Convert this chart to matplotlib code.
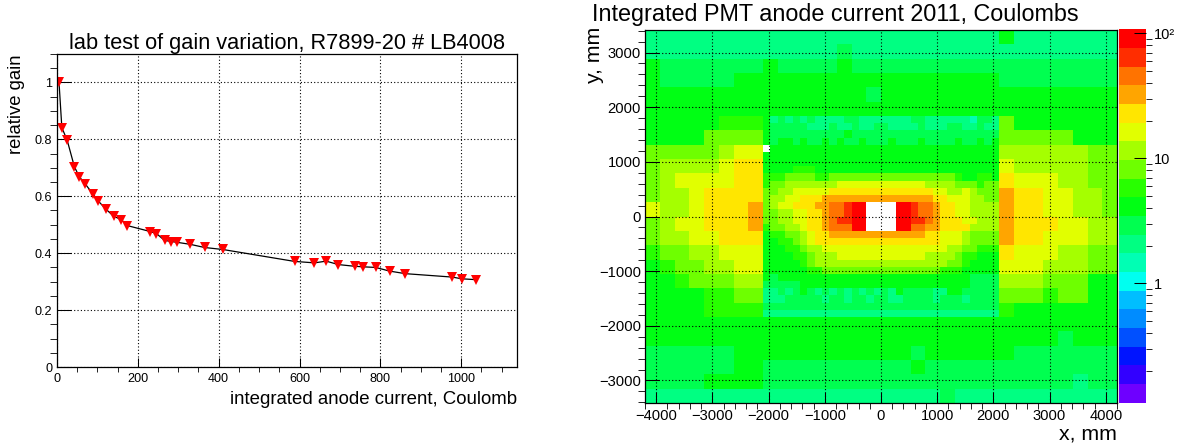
import numpy as np
import matplotlib.pyplot as plt
from matplotlib.colors import ListedColormap, LogNorm
from matplotlib.ticker import MultipleLocator, FuncFormatter, LogLocator, NullFormatter

plt.rcParams['font.family'] = ['Liberation Sans', 'DejaVu Sans']

# ---- gain vs integrated charge (lab test) ----
charge = [5, 12, 25, 43, 55, 70, 89, 101, 120, 140, 159, 174, 231, 246, 266,
          283, 298, 330, 365, 410, 588, 637, 666, 696, 736, 758, 788, 823,
          862, 978, 1001, 1036]
gain = [1.0, 0.841, 0.798, 0.704, 0.669, 0.643, 0.608, 0.585, 0.556, 0.530,
        0.518, 0.497, 0.476, 0.469, 0.445, 0.441, 0.438, 0.431, 0.420, 0.413,
        0.371, 0.366, 0.372, 0.360, 0.354, 0.352, 0.350, 0.337, 0.328, 0.316,
        0.310, 0.307]

# ---- anode current map, coded by palette level ----
palette = ['#6e00ff', '#3200ff', '#0014ff', '#0050ff', '#008cff', '#00beff',
           '#00fff0', '#00ffb4', '#00ff82', '#00ff50', '#00ff14', '#28ff00',
           '#6eff00', '#a5ff00', '#e1ff00', '#ffe600', '#ffa500', '#ff7300',
           '#ff2d00', '#ff0000']
level_codes = "0123456789ABCDEFGHIJ"
level_values = [0.132, 0.186, 0.262, 0.368, 0.519, 0.732, 1.03, 1.45, 2.05,
                2.89, 4.07, 5.73, 8.08, 11.4, 16.1, 22.6, 31.9, 44.9, 63.3, 89.2]
z_min, z_max = 0.111, 107.6

# outer cells (262.5 mm), top row first; '.' = not filled
outer_rows = [
    "88888888" "88888888" "88888888" "A8888888",
    "88888888" "88888988" "88888888" "88888888",
    "A9999999" "A9999A99" "99999999" "99999999",
    "A99999AA" "AAAAAAAA" "AAAAAAAA" "99999999",
    "AAAAAAAA" "AAAAAAA9" "AAAAAAAA" "AAAAAAAA",
    "AAAAAAAA" "AAAAAAAA" "AAAAAAAA" "AAAAAAAA",
    "AAAAABBB" "........" "........" "CAAAAAAA",
    "AAAACCCC" "........" "........" "CCCCCAAA",
    "CCCCCDEE" "........" "........" "DDDDDDCC",
    "CDDDDEFF" "........" "........" "EDDDDDCC",
    "CDEEEEFF" "........" "........" "FEEEDDCC",
    "CDDEFFFF" "........" "........" "GFFEEDDC",
    "EDDEFFFG" "........" "........" "GFFEEDDC",
    "CDEEFFFG" "........" "........" "GFFFEEDD",
    "CDDEEFFF" "........" "........" "GFFEEEDD",
    "BCCDDEEE" "........" "........" "FEEEDDCC",
    "ABCCDDEE" "........" "........" "EEEDDDCC",
    "AABCCCDD" "........" "........" "DDDCCCAA",
    "AAAABBCC" "........" "........" "CCCBCCAA",
    "AAAABBBB" "........" "........" "BAAAAAAA",
    "AAAAAAAA" "AAAAAAAA" "AAAAAAAA" "AAAAAAAA",
    "AAAAAAAA" "AAAAAAAA" "AAAAAAAA" "AAAA9AAA",
    "999999AA" "AAAAAAAA" "AA9AAAAA" "A9999999",
    "999999AA" "99999999" "99A99999" "99999999",
    "9999AAAA" "99999999" "99999999" "99999899",
    "88888888" "88888888" "88889888" "88888888",
]

# inner cells (131.25 mm), |x| < 2100, |y| < 1837.5, top row first
inner_rows = [
    "A8989898" "88899888" "88889988" "88887998",
    "A9999988" "89889889" "98888988" "89988988",
    "A9999999" "999A9999" "99999999" "99999999",
    "A9AA9A99" "A9A99A99" "9A999A99" "99A99A9A",
    ".AAAAAAA" "AAAAAAAA" "AAAAAAAA" "AAAAAAAA",
    "AAAAAAAA" "AAAAAAAA" "AAAAAAAA" "AAAAAAAA",
    "AAAAAAAA" "AAAAAAAA" "AAAAAAAA" "AAAAAAAA",
    "AAAABBBA" "AAAAAAAA" "AAAAAAAA" "AAAAAAAA",
    "BBBCCCCB" "BCCCCCCC" "CCCCCCCC" "CCBAABBA",
    "BCCDDDDD" "DDEEEEEE" "EEEEEEDD" "DDCCCBCC",
    "CCDDEEEE" "EFFFFFFF" "FFFFFFFE" "EDDEDCCC",
    "CDDEEFFF" "GGGGGGGG" "GGGGGGGF" "FEEEDDCC",
    "CDEEFFFG" "GHHIJJ.." "..JJIHHG" "FFEEDDDD",
    "CCDDEEFF" "GHHIJJ.." "..JJIHHG" "FFEEDDDD",
    "CCDDEEFF" "GHIIJJ.." "..JJIIHG" "FFFEEDDD",
    "BCCDDEFF" "GHHHJJ.." "..JJHHGG" "FFFFDDDD",
    "ABBCCDEF" "FGGGGGGG" "GGGGGGFF" "EEEDCCCC",
    "AABBCDEF" "FFFFFFFF" "FFFFFFFF" "EEEDCCCC",
    "AAABBCDD" "EEEEEEEE" "EEEEEEEE" "EDDCCBBB",
    "AAAABBCD" "DDEEEEEE" "EEEEEEDD" "DDCBBAAA",
    "AAAAABCD" "DDDDDDDD" "DDDDDDDD" "DCCBAAAA",
    "AAAAAABB" "CCCCCCCC" "CCCCCCCC" "BBBAAAAA",
    "A9AAAAAA" "AAAAAAAA" "AAAAAAAA" "AAAA9999",
    "99999AAA" "AAAAAAAA" "AAAAAAAA" "AAAA9999",
    "88989A98" "98989898" "98A99998" "8AA99999",
    "88899999" "89989989" "98899998" "99989999",
    "99999999" "99999999" "99999999" "99999999",
    "88888888" "88888888" "88888888" "88888888",
]


def decode(rows):
    grid = [[np.nan if c == '.' else level_values[level_codes.index(c)] for c in r]
            for r in rows]
    return np.array(grid)[::-1]


W, H = 1186, 445
fig = plt.figure(figsize=(W / 100, H / 100), dpi=100)


def px_axes(x0, y0, x1, y1):
    return fig.add_axes([x0 / W, 1 - y1 / H, (x1 - x0) / W, (y1 - y0) / H])


dotted = (0, (1, 2))

# ---------------- left pad ----------------
ax1 = px_axes(57, 54, 517, 367)
ax1.plot(charge, gain, color='black', lw=0.9, marker='v', ms=7,
         mfc='red', mec='red', mew=0)
ax1.set_xlim(0, 1138)
ax1.set_ylim(0, 1.1)
ax1.xaxis.set_major_locator(MultipleLocator(200))
ax1.xaxis.set_minor_locator(MultipleLocator(50))
ax1.yaxis.set_major_locator(MultipleLocator(0.2))
ax1.yaxis.set_minor_locator(MultipleLocator(0.05))
ax1.yaxis.set_major_formatter(FuncFormatter(lambda v, p: '%g' % round(v, 2)))
ax1.grid(True, which='major', color='black', linestyle=dotted, linewidth=0.8)
ax1.tick_params(direction='in', labelsize=9.1, width=0.75)
ax1.tick_params(axis='x', which='major', length=6.8, pad=4)
ax1.tick_params(axis='x', which='minor', length=3.4)
ax1.tick_params(axis='y', which='major', length=9.9, pad=3.5)
ax1.tick_params(axis='y', which='minor', length=5)
for s in ax1.spines.values():
    s.set_linewidth(0.9)
ax1.set_title("lab test of gain variation, R7899-20 # LB4008", fontsize=15.7, pad=3.5)
fig.text(17 / W, 1 - 54 / H, "relative gain", rotation=90, ha='center', va='top',
         fontsize=13.3)
fig.text(517 / W, 1 - 404 / H, "integrated anode current, Coulomb", ha='right',
         va='baseline', fontsize=13.4)

# ---------------- right pad ----------------
cmap = ListedColormap(palette)
norm = LogNorm(vmin=z_min, vmax=z_max)

ax2 = px_axes(645, 30, 1117, 403)
x_outer = np.linspace(-4200, 4200, 33)
y_outer = np.linspace(-3412.5, 3412.5, 27)
x_inner = np.linspace(-2100, 2100, 33)
y_inner = np.linspace(-1837.5, 1837.5, 29)
mesh = ax2.pcolormesh(x_outer, y_outer, decode(outer_rows), cmap=cmap, norm=norm,
                      shading='flat', edgecolors='none', antialiased=False)
ax2.pcolormesh(x_inner, y_inner, decode(inner_rows), cmap=cmap, norm=norm,
               shading='flat', edgecolors='none', antialiased=False)
ax2.set_xlim(-4200, 4200)
ax2.set_ylim(-3412.5, 3412.5)
ax2.xaxis.set_major_locator(MultipleLocator(1000))
ax2.xaxis.set_minor_locator(MultipleLocator(200))
ax2.yaxis.set_major_locator(MultipleLocator(1000))
ax2.yaxis.set_minor_locator(MultipleLocator(200))
ax2.set_axisbelow(False)
ax2.grid(True, which='major', color='black', linestyle=dotted, linewidth=0.8)
ax2.tick_params(direction='in', labelsize=10.6, width=0.75)
ax2.tick_params(axis='x', which='major', length=8, pad=4)
ax2.tick_params(axis='x', which='minor', length=4)
ax2.tick_params(axis='y', which='major', length=10.2, pad=3)
ax2.tick_params(axis='y', which='minor', length=5.1)
for s in ax2.spines.values():
    s.set_linewidth(0.9)
fig.text(835 / W, 1 - 21 / H, "Integrated PMT anode current 2011, Coulombs",
         ha='center', va='baseline', fontsize=16.8)
fig.text(595 / W, 1 - 27 / H, "y, mm", rotation=90, ha='center', va='top',
         fontsize=15.3)
fig.text(1117 / W, 1 - 440 / H, "x, mm", ha='right', va='baseline', fontsize=15.3)

cax = px_axes(1119, 29.3, 1146, 402.7)
cb = fig.colorbar(mesh, cax=cax)
cb.outline.set_visible(False)
cb.set_ticks([1, 10, 100], labels=['1', '10', '10²'])
cax.yaxis.set_minor_locator(LogLocator(base=10, subs=np.arange(2, 10)))
cax.yaxis.set_minor_formatter(NullFormatter())
cax.tick_params(direction='in', labelsize=10.5, width=0.75, pad=6)
cax.tick_params(which='major', length=8.6)
cax.tick_params(which='minor', length=4.3)

fig.savefig('out.png', dpi=100)
